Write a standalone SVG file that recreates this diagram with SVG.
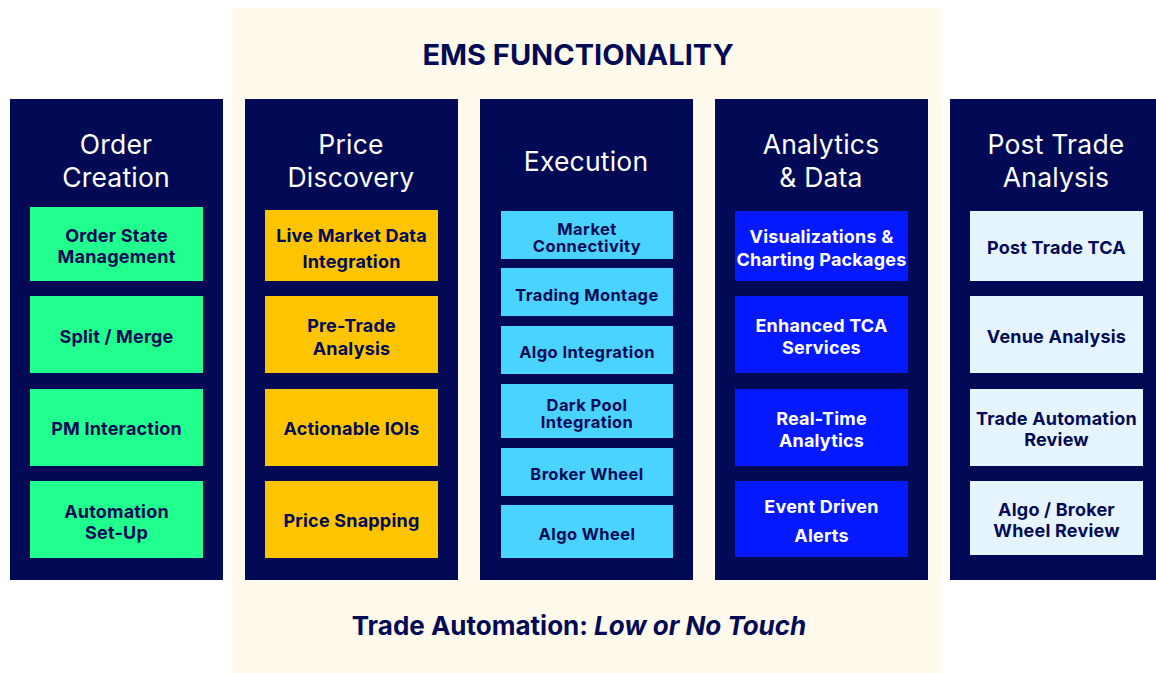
<svg xmlns="http://www.w3.org/2000/svg" width="1156" height="673" viewBox="0 0 1156 673">
<style>
.col{fill:#020A55}
.ttl{font-family:Inter,"Liberation Sans",sans-serif;font-size:26.5px;fill:#FFFFFF;text-anchor:middle;letter-spacing:0.2px}
.bx{font-family:Inter,"Liberation Sans",sans-serif;font-size:18px;font-weight:700;fill:#020A55;text-anchor:middle;letter-spacing:0.2px}
.sm{font-size:16.5px;letter-spacing:0.4px}
.wt{fill:#FFFFFF}
.g{fill:#21FF8F}.y{fill:#FFC400}.c{fill:#4AD3FF}.b{fill:#0519FF}.l{fill:#E6F4FF}
</style>
<rect width="1156" height="673" fill="#FFFFFF"/>
<rect x="232" y="8" width="710" height="670" fill="#FFFAEB"/>
<text x="578" y="65" font-family="Inter,'Liberation Sans',sans-serif" font-size="29" font-weight="700" fill="#020A55" text-anchor="middle">EMS FUNCTIONALITY</text>
<text x="579" y="635" font-family="Inter,'Liberation Sans',sans-serif" font-size="26" font-weight="700" fill="#020A55" text-anchor="middle">Trade Automation: <tspan font-style="italic">Low or No Touch</tspan></text>

<g id="col-order-creation">
<rect class="col" x="10" y="99" width="213" height="481"/>
<text class="ttl" x="116" y="154">Order</text>
<text class="ttl" x="116" y="187">Creation</text>
<g id="n-order-state"><rect class="g" x="30" y="207" width="173" height="74"/><text class="bx" x="116.5" y="242">Order State</text><text class="bx" x="116.5" y="263">Management</text></g>
<g id="n-split"><rect class="g" x="30" y="296" width="173" height="77"/><text class="bx" x="116.5" y="343">Split / Merge</text></g>
<g id="n-pm"><rect class="g" x="30" y="389" width="173" height="77"/><text class="bx" x="116.5" y="435">PM Interaction</text></g>
<g id="n-auto-setup"><rect class="g" x="30" y="481" width="173" height="77"/><text class="bx" x="116.5" y="518">Automation</text><text class="bx" x="116.5" y="539">Set-Up</text></g>
</g>

<g id="col-price-discovery">
<rect class="col" x="245" y="99" width="213" height="481"/>
<text class="ttl" x="351" y="154">Price</text>
<text class="ttl" x="351" y="187">Discovery</text>
<g id="n-live"><rect class="y" x="265" y="210" width="173" height="71"/><text class="bx" x="351.5" y="242">Live Market Data</text><text class="bx" x="351.5" y="268">Integration</text></g>
<g id="n-pretrade"><rect class="y" x="265" y="296" width="173" height="77"/><text class="bx" x="351.5" y="332">Pre-Trade</text><text class="bx" x="351.5" y="355">Analysis</text></g>
<g id="n-iois"><rect class="y" x="265" y="389" width="173" height="77"/><text class="bx" x="351.5" y="435">Actionable IOIs</text></g>
<g id="n-snap"><rect class="y" x="265" y="481" width="173" height="77"/><text class="bx" x="351.5" y="527">Price Snapping</text></g>
</g>

<g id="col-execution">
<rect class="col" x="480" y="99" width="213" height="481"/>
<text class="ttl" x="586" y="171">Execution</text>
<g id="n-conn"><rect class="c" x="501" y="211" width="172" height="48"/><text class="bx sm" x="587" y="234.5">Market</text><text class="bx sm" x="587" y="251.5">Connectivity</text></g>
<g id="n-montage"><rect class="c" x="501" y="268" width="172" height="48"/><text class="bx sm" x="587" y="301">Trading Montage</text></g>
<g id="n-algo-int"><rect class="c" x="501" y="326" width="172" height="48"/><text class="bx sm" x="587" y="358">Algo Integration</text></g>
<g id="n-dark"><rect class="c" x="501" y="384" width="172" height="54"/><text class="bx sm" x="587" y="410.5">Dark Pool</text><text class="bx sm" x="587" y="427.5">Integration</text></g>
<g id="n-broker-wheel"><rect class="c" x="501" y="448" width="172" height="48"/><text class="bx sm" x="587" y="480">Broker Wheel</text></g>
<g id="n-algo-wheel"><rect class="c" x="501" y="505" width="172" height="53"/><text class="bx sm" x="587" y="540">Algo Wheel</text></g>
</g>

<g id="col-analytics">
<rect class="col" x="715" y="99" width="213" height="481"/>
<text class="ttl" x="821" y="154">Analytics</text>
<text class="ttl" x="821" y="187">&amp; Data</text>
<g id="n-vis"><rect class="b" x="735" y="211" width="173" height="70"/><text class="bx wt" x="821.5" y="243">Visualizations &amp;</text><text class="bx wt" x="821.5" y="266">Charting Packages</text></g>
<g id="n-tca"><rect class="b" x="735" y="296" width="173" height="77"/><text class="bx wt" x="821.5" y="332">Enhanced TCA</text><text class="bx wt" x="821.5" y="354">Services</text></g>
<g id="n-rt"><rect class="b" x="735" y="389" width="173" height="77"/><text class="bx wt" x="821.5" y="425">Real-Time</text><text class="bx wt" x="821.5" y="447">Analytics</text></g>
<g id="n-event"><rect class="b" x="735" y="481" width="173" height="76"/><text class="bx wt" x="821.5" y="513">Event Driven</text><text class="bx wt" x="821.5" y="542">Alerts</text></g>
</g>

<g id="col-post-trade">
<rect class="col" x="950" y="99" width="213" height="481"/>
<text class="ttl" x="1056" y="154">Post Trade</text>
<text class="ttl" x="1056" y="187">Analysis</text>
<g id="n-pttca"><rect class="l" x="970" y="211" width="173" height="70"/><text class="bx" x="1056.5" y="254">Post Trade TCA</text></g>
<g id="n-venue"><rect class="l" x="970" y="296" width="173" height="77"/><text class="bx" x="1056.5" y="343">Venue Analysis</text></g>
<g id="n-tar"><rect class="l" x="970" y="389" width="173" height="77"/><text class="bx" x="1056.5" y="425">Trade Automation</text><text class="bx" x="1056.5" y="446">Review</text></g>
<g id="n-abwr"><rect class="l" x="970" y="481" width="173" height="74"/><text class="bx" x="1056.5" y="516">Algo / Broker</text><text class="bx" x="1056.5" y="537">Wheel Review</text></g>
</g>
<g id="connectors"/>
</svg>
